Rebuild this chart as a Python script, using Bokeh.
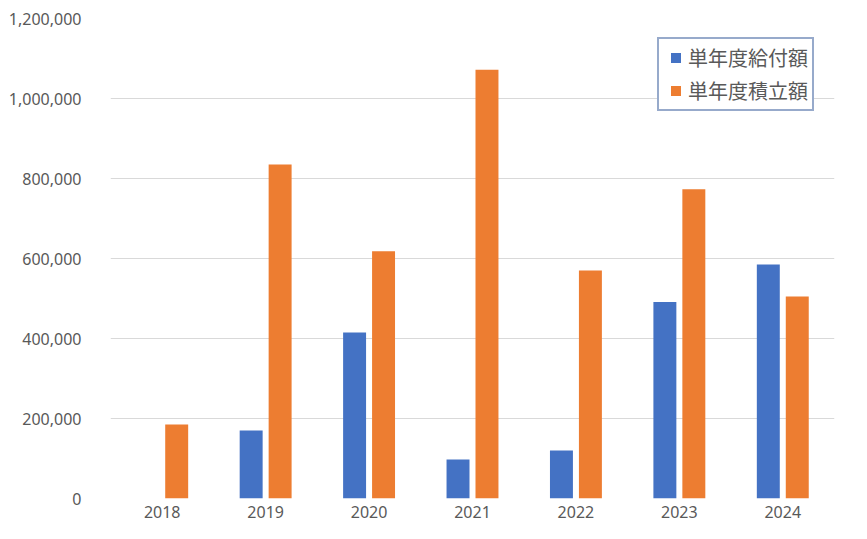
from bokeh.plotting import figure
from bokeh.models import ColumnDataSource, FactorRange, Legend, LegendItem, NumeralTickFormatter, Range1d
from bokeh.transform import dodge
from bokeh.embed import file_html
from bokeh.resources import INLINE

years = ["2018", "2019", "2020", "2021", "2022", "2023", "2024"]
benefit = [0, 170000, 415000, 97500, 120000, 491000, 585000]      # 単年度給付額
reserve = [185000, 835000, 618000, 1072000, 570000, 773000, 505000]  # 単年度積立額
label_benefit = "単年度給付額"
label_reserve = "単年度積立額"
y_ticks = [0, 200000, 400000, 600000, 800000, 1000000, 1200000]
blue = "#4472C4"
orange = "#ED7D31"

src = ColumnDataSource(dict(year=years, benefit=benefit, reserve=reserve))

p = figure(x_range=FactorRange(*years), y_range=Range1d(0, 1200000),
           width=851, height=523, output_backend="svg", toolbar_location=None,
           min_border_left=110, min_border_right=17, min_border_top=18, min_border_bottom=25)
p.outline_line_color = None
p.background_fill_color = "white"

r1 = p.vbar(x=dodge("year", -0.14, range=p.x_range), top="benefit", width=0.222,
            source=src, fill_color=blue, line_color=None)
r2 = p.vbar(x=dodge("year", 0.14, range=p.x_range), top="reserve", width=0.222,
            source=src, fill_color=orange, line_color=None)

# hidden square-marker renderers used only for the legend swatches
k1 = p.scatter(x=dodge("year", -0.14, range=p.x_range), y="benefit", source=src,
               marker="square", size=10, fill_color=blue, line_color=None, visible=False)
k2 = p.scatter(x=dodge("year", 0.14, range=p.x_range), y="reserve", source=src,
               marker="square", size=10, fill_color=orange, line_color=None, visible=False)

p.xgrid.grid_line_color = None
p.ygrid.grid_line_color = "#D9D9D9"
p.ygrid.grid_line_width = 1

p.yaxis.ticker = y_ticks
p.yaxis.formatter = NumeralTickFormatter(format="0,0")
for ax in (p.xaxis[0], p.yaxis[0]):
    ax.axis_line_color = None
    ax.major_tick_line_color = None
    ax.minor_tick_line_color = None
    ax.major_label_text_font = "Noto Sans"
    ax.major_label_text_font_size = "16px"
    ax.major_label_text_color = "#595959"
p.yaxis.major_label_standoff = 23
p.xaxis.major_label_standoff = 1

legend = Legend(items=[LegendItem(label=label_benefit, renderers=[k1]),
                       LegendItem(label=label_reserve, renderers=[k2])],
                location=(547, 387), orientation="vertical",
                padding=4, spacing=4, label_height=26, glyph_width=25, glyph_height=25,
                label_standoff=0, label_width=120, margin=0,
                label_text_font="Noto Sans CJK JP", label_text_font_size="20px",
                label_text_color="#595959",
                border_line_color="#2F5597", border_line_width=2,
                background_fill_color="white", background_fill_alpha=1.0)
p.add_layout(legend)

open("out.html", "w").write(file_html(p, INLINE))
